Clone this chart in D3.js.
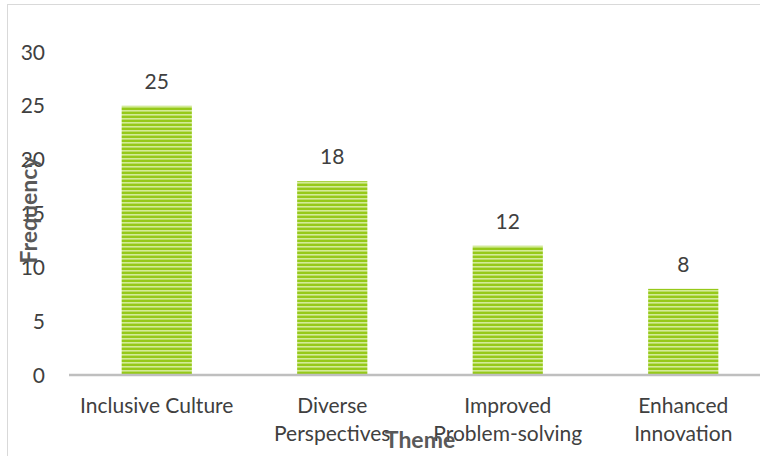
<!DOCTYPE html>
<html>
<head>
<meta charset="utf-8">
<script src="https://cdn.jsdelivr.net/npm/d3@7"></script>
<style>
  body { margin: 0; background: #fff; }
  text { font-family: Lato, "Open Sans", sans-serif; }
</style>
</head>
<body>
<div id="vis"></div>
<script>
const themes = ["Inclusive Culture", "Diverse Perspectives", "Improved Problem-solving", "Enhanced Innovation"];
const themeLines = [["Inclusive Culture"], ["Diverse", "Perspectives"], ["Improved", "Problem-solving"], ["Enhanced", "Innovation"]];
const frequency = [25, 18, 12, 8];
const yTicks = [0, 5, 10, 15, 20, 25, 30];

const WIDTH = 760;
const HEIGHT = 456;
const FS = 21;        // etiquetas
const FS_TITULO = 23; // títulos de ejes

const SVG = d3.select("#vis").append("svg")
    .attr("width", WIDTH)
    .attr("height", HEIGHT);

// patrón de rayas horizontales
const pat = SVG.append("defs").append("pattern")
    .attr("id", "rayas")
    .attr("patternUnits", "userSpaceOnUse")
    .attr("width", 8)
    .attr("height", 4);
pat.append("rect").attr("width", 8).attr("height", 4).attr("fill", "#96C91A");
pat.append("rect").attr("y", 2).attr("width", 8).attr("height", 1.6).attr("fill", "#D3EB98");

SVG.append("rect")
    .attr("x", 7.5).attr("y", 4.5)
    .attr("width", WIDTH).attr("height", HEIGHT)
    .attr("fill", "none")
    .attr("stroke", "#D9D9D9");

const xScale = d3.scaleBand()
    .domain(themes)
    .range([69, 771])
    .paddingInner(0.6)
    .paddingOuter(0.3);

const yScale = d3.scaleLinear()
    .domain([0, 30])
    .range([375, 52]);

// etiquetas eje y
SVG.append("g")
    .selectAll("text")
    .data(yTicks)
    .join("text")
    .attr("x", 45)
    .attr("y", d => yScale(d) + 7.5)
    .attr("text-anchor", "end")
    .attr("font-size", FS)
    .attr("fill", "#404040")
    .text(d => d);

// barras
SVG.append("g")
    .selectAll("rect")
    .data(frequency)
    .join("rect")
    .attr("x", (d, i) => xScale(themes[i]))
    .attr("y", d => yScale(d))
    .attr("width", xScale.bandwidth())
    .attr("height", d => yScale(0) - yScale(d))
    .attr("fill", "url(#rayas)");

// valores
SVG.append("g")
    .selectAll("text")
    .data(frequency)
    .join("text")
    .attr("x", (d, i) => xScale(themes[i]) + xScale.bandwidth() / 2)
    .attr("y", d => yScale(d) - 17)
    .attr("text-anchor", "middle")
    .attr("font-size", FS)
    .attr("fill", "#404040")
    .text(d => d);

// línea base
SVG.append("line")
    .attr("x1", 69).attr("x2", WIDTH)
    .attr("y1", yScale(0)).attr("y2", yScale(0))
    .attr("stroke", "#BFBFBF")
    .attr("stroke-width", 2.5);

// etiquetas categorías
SVG.append("g")
    .selectAll("text")
    .data(themes)
    .join("text")
    .attr("y", 413)
    .attr("text-anchor", "middle")
    .attr("font-size", FS)
    .attr("fill", "#404040")
    .each(function(d, i) {
        d3.select(this).selectAll("tspan")
            .data(themeLines[i])
            .join("tspan")
            .attr("x", xScale(d) + xScale.bandwidth() / 2)
            .attr("dy", (t, j) => j === 0 ? 0 : 28)
            .text(t => t);
    });

// títulos de ejes
SVG.append("text")
    .text("Theme")
    .attr("x", 420)
    .attr("y", 448)
    .attr("text-anchor", "middle")
    .attr("font-weight", "bold")
    .attr("font-size", FS_TITULO)
    .attr("fill", "#595959");

SVG.append("text")
    .text("Frequency")
    .attr("transform", "translate(37, 210) rotate(-90)")
    .attr("text-anchor", "middle")
    .attr("font-weight", "bold")
    .attr("font-size", FS_TITULO)
    .attr("fill", "#595959");
</script>
</body>
</html>
